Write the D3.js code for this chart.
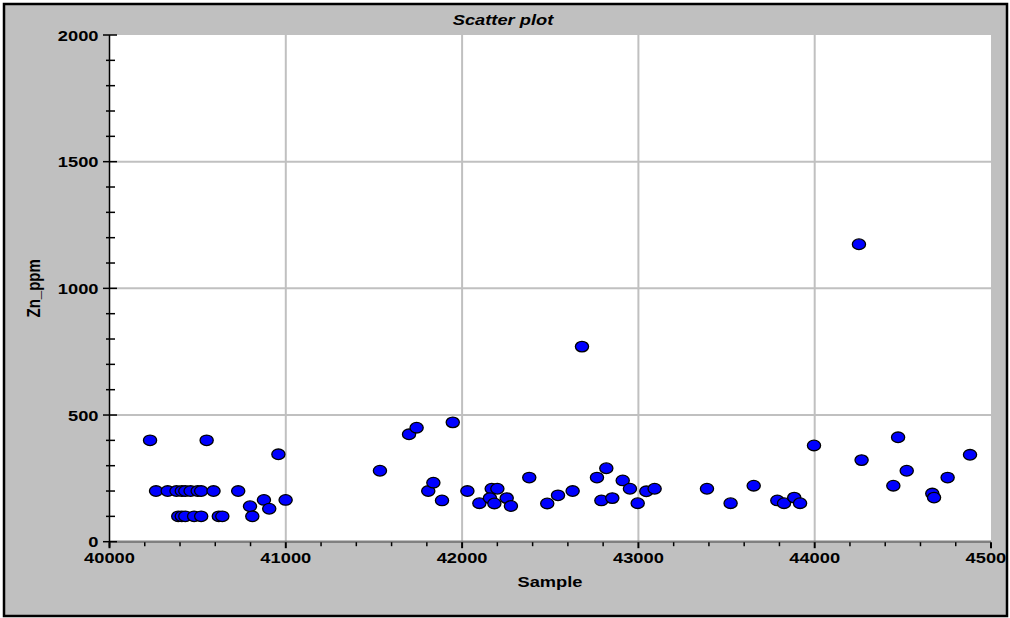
<!DOCTYPE html>
<html>
<head>
<meta charset="utf-8">
<script src="https://cdn.jsdelivr.net/npm/d3@7"></script>
<style>
  html, body { margin: 0; padding: 0; background: #fff; }
  svg { display: block; }
  text { font-family: "Liberation Sans", Arial, sans-serif; font-weight: bold; fill: #000; }
</style>
</head>
<body>
<svg id="chart" width="1010" height="618"></svg>
<script>
// Sample number vs. zinc assay
const sampleIds = [
  40230, 40551,
  40264, 40330, 40380, 40410, 40430, 40460, 40500, 40520, 40590, 40730,
  40390, 40410, 40430, 40480, 40520, 40620, 40640,
  40797, 40810, 40876, 40906, 40958, 40999,
  41534, 41699, 41742, 41947, 41808, 41837, 41886,
  42030, 42098, 42168, 42200, 42158, 42183, 42253, 42277,
  42381, 42483, 42544, 42627, 42680, 42765, 42818, 42790, 42852,
  42911, 42952, 42996, 43045, 43092,
  43389, 43523, 43654, 43788, 43826, 43884, 43917, 43996,
  44251, 44266, 44473, 44522, 44446, 44754, 44881, 44667, 44677
];
const znPpm = [
  400, 400,
  200, 200, 200, 200, 200, 200, 200, 200, 200, 200,
  100, 100, 100, 100, 100, 100, 100,
  140, 100, 165, 130, 345, 165,
  280, 424, 450, 471, 200, 233, 163,
  200, 152, 209, 209, 172, 151, 172, 141,
  253, 151, 183, 200, 770, 253, 290, 163, 172,
  242, 209, 152, 199, 209,
  209, 152, 221, 163, 152, 174, 152, 380,
  1174, 322, 412, 280, 221, 253, 343, 190, 174
];

const xTicks = [40000, 41000, 42000, 43000, 44000, 45000];
const yTicks = [0, 500, 1000, 1500, 2000];
const titleText = "Scatter plot";
const xTitle = "Sample";
const yTitle = "Zn_ppm";

const W = 1010, H = 618;
const plot = { left: 109.5, right: 991, top: 35, bottom: 541.7 };
const SX = 1.22;          // wide glyph rendering
const FS = 15;
const grey = "#c0c0c0";

const svg = d3.select("#chart");

const x = d3.scaleLinear().domain([40000, 45000]).range([plot.left, plot.right]);
const y = d3.scaleLinear().domain([0, 2000]).range([plot.bottom, plot.top]);

// outer panel
svg.append("rect").attr("width", W).attr("height", H).attr("fill", "#fff");
svg.append("defs").append("clipPath").attr("id", "frameClip")
  .append("rect").attr("x", 5).attr("y", 5).attr("width", 1001).attr("height", 610);
svg.append("rect")
  .attr("x", 4).attr("y", 4).attr("width", 1003).attr("height", 612)
  .attr("fill", grey).attr("stroke", "#000").attr("stroke-width", 2.5);

const root = svg.append("g").attr("clip-path", "url(#frameClip)");

// plotting area
root.append("rect")
  .attr("x", plot.left).attr("y", plot.top)
  .attr("width", plot.right - plot.left).attr("height", plot.bottom - plot.top)
  .attr("fill", "#fff");

// grid
root.append("g").selectAll("line").data(xTicks.slice(1, -1)).join("line")
  .attr("x1", d => x(d)).attr("x2", d => x(d))
  .attr("y1", plot.top).attr("y2", plot.bottom)
  .attr("stroke", grey).attr("stroke-width", 2);
root.append("g").selectAll("line").data(yTicks.slice(1, -1)).join("line")
  .attr("x1", plot.left).attr("x2", plot.right)
  .attr("y1", d => y(d)).attr("y2", d => y(d))
  .attr("stroke", grey).attr("stroke-width", 2);

// x axis line (grey) and ticks
root.append("line")
  .attr("x1", plot.left).attr("x2", plot.right)
  .attr("y1", plot.bottom).attr("y2", plot.bottom)
  .attr("stroke", "#808080").attr("stroke-width", 2.5);

const xMinor = d3.range(40000, 45001, 200);
root.append("g").selectAll("line").data(xMinor).join("line")
  .attr("x1", d => x(d)).attr("x2", d => x(d))
  .attr("y1", plot.bottom + 0.5)
  .attr("y2", d => plot.bottom + (d % 1000 === 0 ? 6.5 : 4.5))
  .attr("stroke", "#000").attr("stroke-width", d => d % 1000 === 0 ? 2 : 1.5);

// y axis line and ticks
root.append("line")
  .attr("x1", plot.left).attr("x2", plot.left)
  .attr("y1", plot.top).attr("y2", plot.bottom + 5)
  .attr("stroke", "#000").attr("stroke-width", 1.5);

const yMinor = d3.range(0, 2001, 100);
root.append("g").selectAll("line").data(yMinor).join("line")
  .attr("x1", d => d % 500 === 0 ? plot.left - 6.5 : plot.left - 3.5)
  .attr("x2", d => d % 500 === 0 ? plot.left + 7.5 : plot.left + 5.5)
  .attr("y1", d => y(d)).attr("y2", d => y(d))
  .attr("stroke", "#000").attr("stroke-width", 1.5);

// tick labels
root.append("g").selectAll("text").data(xTicks).join("text")
  .attr("transform", d => `translate(${x(d)},${563}) scale(${SX},1)`)
  .attr("text-anchor", "middle")
  .style("font-size", FS + "px")
  .text(d => d);

root.append("g").selectAll("text").data(yTicks).join("text")
  .attr("transform", d => `translate(${plot.left - 11},${y(d) + 5.5}) scale(${SX},1)`)
  .attr("text-anchor", "end")
  .style("font-size", FS + "px")
  .text(d => d);

// titles
root.append("text")
  .attr("transform", `translate(503,24.5) scale(${SX},1)`)
  .attr("text-anchor", "middle")
  .style("font-size", FS + "px").style("font-style", "italic")
  .text(titleText);

root.append("text")
  .attr("transform", `translate(550,587) scale(${SX},1)`)
  .attr("text-anchor", "middle")
  .style("font-size", FS + "px")
  .text(xTitle);

root.append("text")
  .attr("transform", `translate(40,${(plot.top + plot.bottom) / 2}) rotate(-90) scale(1,${SX})`)
  .attr("text-anchor", "middle")
  .style("font-size", FS + "px")
  .text(yTitle);

// markers
const points = sampleIds.map((s, i) => ({ s, v: znPpm[i] }));
root.append("g").selectAll("ellipse").data(points).join("ellipse")
  .attr("cx", d => x(d.s)).attr("cy", d => y(d.v))
  .attr("rx", 6.6).attr("ry", 5.3)
  .attr("fill", "#0000ff").attr("stroke", "#000").attr("stroke-width", 1.3);
</script>
</body>
</html>
